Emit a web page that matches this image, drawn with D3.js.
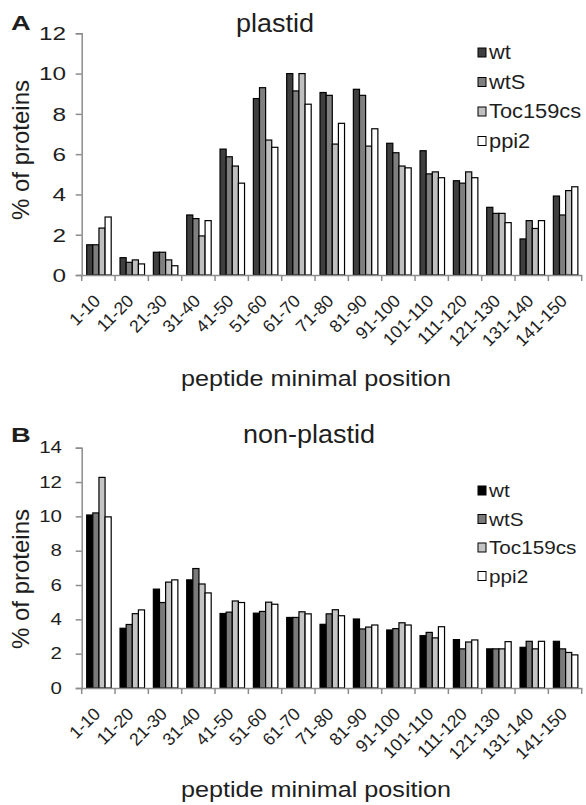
<!DOCTYPE html>
<html>
<head>
<meta charset="utf-8">
<script src="https://cdn.jsdelivr.net/npm/d3@7"></script>
<style>
  body { margin: 0; background: #fff; }
  text { font-family: "Liberation Sans", Arial, sans-serif; fill: #1e1e1e; }
</style>
</head>
<body>
<div id="chart"></div>
<script>
// Data
const categories = ["1-10", "11-20", "21-30", "31-40", "41-50", "51-60", "61-70", "71-80",
  "81-90", "91-100", "101-110", "111-120", "121-130", "131-140", "141-150"];
const seriesNames = ["wt", "wtS", "Toc159cs", "ppi2"];

// panel A: plastid
const plastidWt   = [1.5, 0.86, 1.13, 2.98, 6.25, 8.76, 10.0, 9.06, 9.22, 6.54, 6.17, 4.68, 3.36, 1.79, 3.92];
const plastidWtS  = [1.5, 0.63, 1.13, 2.8, 5.87, 9.3, 9.14, 8.92, 8.92, 6.07, 5.02, 4.56, 3.06, 2.7, 2.98];
const plastidToc  = [2.33, 0.75, 0.75, 1.94, 5.41, 6.7, 10.0, 6.5, 6.4, 5.41, 5.12, 5.12, 3.06, 2.31, 4.19];
const plastidPpi2 = [2.88, 0.55, 0.46, 2.7, 4.56, 6.34, 8.48, 7.53, 7.26, 5.32, 4.83, 4.83, 2.6, 2.7, 4.38];

// panel B: non-plastid
const nonPlastidWt   = [10.08, 3.48, 5.76, 6.3, 4.34, 4.36, 4.11, 3.71, 4.02, 3.38, 3.05, 2.82, 2.28, 2.37, 2.72];
const nonPlastidWtS  = [10.2, 3.7, 4.98, 6.96, 4.42, 4.46, 4.11, 4.32, 3.44, 3.46, 3.24, 2.28, 2.28, 2.72, 2.28];
const nonPlastidToc  = [12.27, 4.33, 6.17, 6.06, 5.07, 5.0, 4.44, 4.56, 3.55, 3.8, 2.92, 2.68, 2.28, 2.28, 2.07];
const nonPlastidPpi2 = [9.97, 4.55, 6.3, 5.54, 4.98, 4.88, 4.32, 4.21, 3.67, 3.67, 3.57, 2.8, 2.7, 2.72, 1.93];

const ticksA = [0, 2, 4, 6, 8, 10, 12];
const ticksB = [0, 2, 4, 6, 8, 10, 12, 14];

const colorsA = ["#3f3f3f", "#7f7f7f", "#bfbfbf", "#ffffff"];
const colorsB = ["#000000", "#7a7a7a", "#c4c4c4", "#ffffff"];

const width = 586, height = 805;
const axisColor = "#8c8c8c";

const svg = d3.select("#chart").append("svg")
  .attr("width", width)
  .attr("height", height);

// text with a slight horizontal stretch, like the source figure
function label(g, str, x, y, size, sx, anchor, rot) {
  return g.append("text")
    .attr("transform", `translate(${x},${y}) scale(${sx},1)` + (rot ? ` rotate(${rot})` : ""))
    .attr("text-anchor", anchor)
    .style("font-size", size + "px")
    .text(str);
}

function drawPanel(p) {
  const g = svg.append("g");

  const x = d3.scaleBand().domain(categories).range([p.left, p.right]);
  const xSub = d3.scaleBand().domain(seriesNames).range([5, 29.5]);
  const y = d3.scaleLinear().domain([0, p.yMax]).range([p.bottom, p.top]);

  const rows = categories.map((c, i) => ({ cat: c, vals: p.series.map(s => s[i]) }));

  // bars
  const grp = g.selectAll(".grp").data(rows).enter().append("g")
    .attr("transform", d => `translate(${x(d.cat)},0)`);
  grp.selectAll("rect")
    .data(d => d.vals.map((v, k) => ({ name: seriesNames[k], v: v, k: k })))
    .enter().append("rect")
    .attr("x", d => xSub(d.name))
    .attr("y", d => y(d.v))
    .attr("width", xSub.bandwidth())
    .attr("height", d => y(0) - y(d.v))
    .attr("fill", d => p.colors[d.k])
    .attr("stroke", "#000")
    .attr("stroke-width", 1.2);

  // y axis
  const yAxis = g.append("g")
    .attr("transform", `translate(${p.left},0)`)
    .call(d3.axisLeft(y).tickValues(p.ticks).tickSize(6).tickFormat(""));
  yAxis.select(".domain").attr("stroke", axisColor).attr("stroke-width", 1.5);
  yAxis.selectAll(".tick line").attr("stroke", axisColor).attr("stroke-width", 1.5);
  p.ticks.forEach(t => {
    label(g, t, p.tickLabelX, y(t) + p.tickSize * 0.36, p.tickSize, 1.28, "end");
  });

  // x axis: ticks at category boundaries
  const xAxis = g.append("g")
    .attr("transform", `translate(0,${p.bottom})`)
    .call(d3.axisBottom(x).tickSize(0).tickFormat(""));
  xAxis.select(".domain").attr("stroke", axisColor).attr("stroke-width", 1.5);
  const bounds = categories.map(c => x(c)).concat([p.right]);
  xAxis.selectAll(".bound").data(bounds).enter().append("line")
    .attr("x1", d => d).attr("x2", d => d)
    .attr("y1", 0).attr("y2", 6)
    .attr("stroke", axisColor).attr("stroke-width", 1.5);

  categories.forEach(c => {
    label(g, c, x(c) + x.bandwidth() / 2 + 3, p.bottom + 27, 17.5, 1, "end", -45);
  });

  // titles
  label(g, p.title, p.titleX, p.titleY, 25, 1.08, "middle");
  g.append("text")
    .attr("transform", `translate(11,${p.letterY}) scale(1.3,1)`)
    .style("font-size", "21px").style("font-weight", "bold")
    .text(p.letter);
  label(g, "% of proteins", 29, p.yTitleY, 24, 1, "middle", -90);
  label(g, "peptide minimal position", 316, p.xTitleY, 22.5, 1.12, "middle");

  // legend
  const leg = g.selectAll(".legend").data(seriesNames).enter().append("g")
    .attr("transform", (d, i) => `translate(478,${p.legendY + i * p.legendStep})`);
  leg.append("rect")
    .attr("x", 0).attr("y", -11)
    .attr("width", 8).attr("height", 9)
    .attr("fill", (d, i) => p.colors[i])
    .attr("stroke", "#000").attr("stroke-width", 1);
  leg.each(function(d) {
    label(d3.select(this), d, 11, 0, p.legendSize, 1.12, "start");
  });
}

drawPanel({
  series: [plastidWt, plastidWtS, plastidToc, plastidPpi2],
  colors: colorsA, ticks: ticksA, yMax: 12,
  left: 81.7, right: 581.7, top: 33.3, bottom: 275,
  tickLabelX: 66, tickSize: 19,
  title: "plastid", titleX: 275, titleY: 32,
  letter: "A", letterY: 30,
  yTitleY: 150, xTitleY: 386,
  legendY: 59, legendStep: 29.5, legendSize: 19.5
});

drawPanel({
  series: [nonPlastidWt, nonPlastidWtS, nonPlastidToc, nonPlastidPpi2],
  colors: colorsB, ticks: ticksB, yMax: 14,
  left: 81.7, right: 581.7, top: 447.7, bottom: 688,
  tickLabelX: 62, tickSize: 16,
  title: "non-plastid", titleX: 309, titleY: 443,
  letter: "B", letterY: 441.5,
  yTitleY: 579, xTitleY: 797,
  legendY: 497, legendStep: 28.5, legendSize: 18.5
});
</script>
</body>
</html>
